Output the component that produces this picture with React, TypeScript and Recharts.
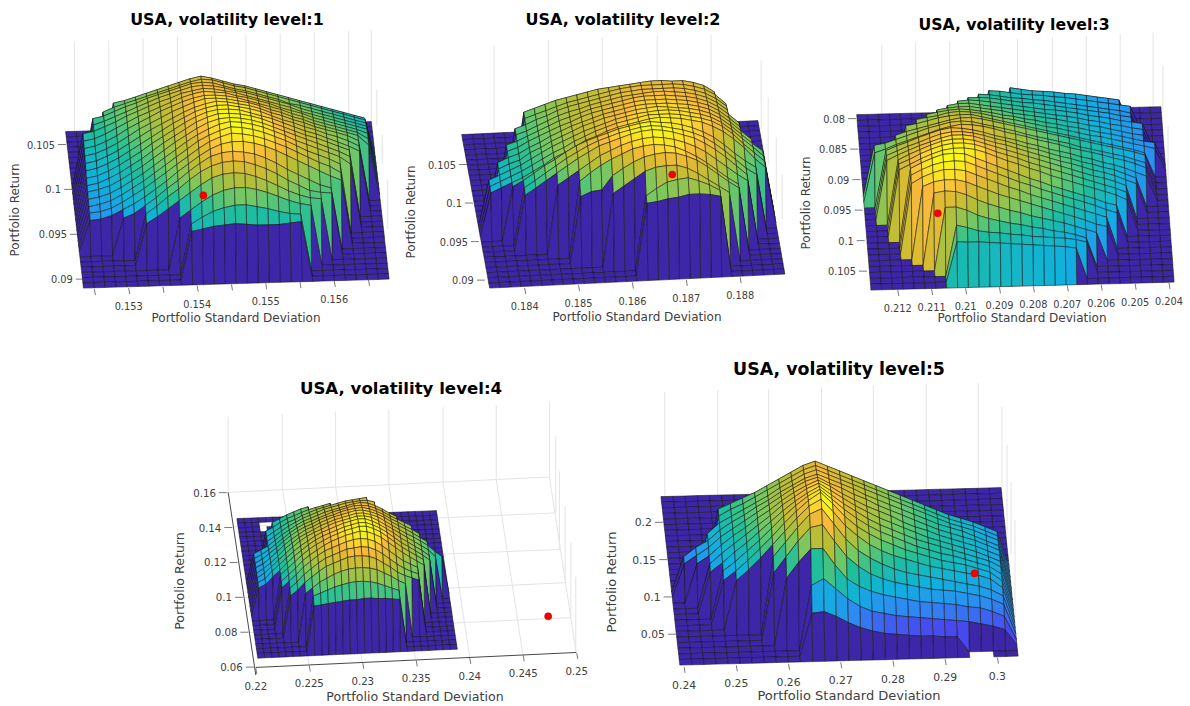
import React from 'react';
import { ScatterChart, Scatter, XAxis, YAxis } from 'recharts';

const GRID_ROWS = 31;
const GRID_COLS = 29;

// each row: first column of the raised part, then its heights as a share of the panel's peak (0-100).
// rows run back to front, columns missing from a row sit on the floor, null is a hole in the surface
type Row = (number | null)[];

const heightsLevel1: Row[] = [
  [0], [0], [0], [0], [0], [0], [0],
  [4,58,60,63,66,69,72,75,78,80,78,75,72,70,67,64,61,58,55,52,49,46,43,40,37],
  [3,55,59,62,65,68,71,74,77,80,82,81,78,75,73,70,67,64,61,58,55,52,49,46,43,40],
  [2,54,56,60,64,67,71,74,77,80,83,84,83,80,77,75,72,69,66,62,60,57,54,51,48,45,42],
  [2,53,56,60,64,68,72,76,79,82,85,86,85,83,80,78,75,72,69,66,62,59,56,53,50,47,44],
  [1,50,52,56,60,65,69,73,77,80,84,86,88,87,85,83,80,77,74,71,68,64,61,58,55,52,49,46],
  [1,48,50,54,59,64,69,73,77,81,85,88,90,89,88,85,83,80,77,73,70,67,63,60,57,54,51,47],
  [1,46,48,52,57,63,68,73,78,82,86,89,91,91,90,88,85,82,79,76,72,69,65,62,59,56,53,47],
  [1,44,46,50,55,61,67,72,77,82,86,90,93,93,92,90,88,85,81,78,74,71,67,64,61,58,55,46],
  [1,42,44,48,53,59,65,71,76,81,86,90,93,95,94,92,90,87,83,80,76,73,69,66,63,60,55],
  [1,40,42,46,51,57,63,69,75,81,86,91,94,96,96,94,92,89,85,81,78,74,71,67,64,60,55],
  [1,38,40,44,49,55,61,68,74,80,86,91,95,97,97,96,93,90,87,83,79,75,72,68,64,60,55],
  [1,36,38,42,47,53,59,66,73,79,85,91,95,98,98,97,95,92,88,84,80,76,73,69,65,61],
  [1,35,37,40,45,51,57,64,71,78,84,90,95,98,99,98,96,93,89,85,81,77,73,69,65,60],
  [1,33,35,38,43,49,55,62,69,76,83,89,94,98,100,99,97,94,90,86,81,77,73,69,65,58],
  [1,31,33,36,41,47,53,60,67,74,81,88,93,97,100,99,97,94,90,86,81,76,72,68,63],
  [1,30,31,34,39,45,51,58,65,72,79,86,92,96,99,98,96,93,89,85,80,75,70,66,60],
  [1,28,29,32,37,42,48,55,62,70,77,84,90,94,96,96,94,91,87,82,77,72,67,62,58],
  [4,34,38,45,52,60,67,75,82,88,91,92,91,89,85,80,74,69,64,59,56],
  [6,42,49,57,64,72,79,84,87,88,87,84,80,75,69,64,59,57,56],
  [6,38,44,51,58,65,72,78,81,82,81,78,74,69,64,60,57,56],
  [9,47,54,61,67,71,73,73,71,68,64,60,57,55],
  [10,46,52,57,60,62,62,60,58,55,53,52],
  [10,44,46,48,49,50,49,48,48,48,49,50],
  [0],
];

const heightsLevel2: Row[] = [
  [0], [0], [0], [0], [0], [0], [0], [0], [0], [0],
  [5,62,65,68,71,73,75,77,79,80,81,82,83,84,84,83,83,81,78,72],
  [5,61,64,67,70,73,75,77,79,81,83,84,85,85,85,85,84,82,79,74,66],
  [4,57,60,64,67,71,74,76,78,80,82,84,85,86,86,86,86,85,83,80,75,68],
  [4,56,59,63,67,71,74,76,79,81,83,85,86,87,88,88,87,86,84,81,76,69],
  [3,52,55,59,63,67,71,74,77,80,82,84,86,88,89,89,89,88,87,85,82,77,70,62],
  [3,51,54,59,63,67,71,74,78,81,83,85,87,89,90,90,90,89,88,86,83,78,71,63],
  [2,46,50,53,58,62,67,71,75,78,81,84,86,88,90,91,91,91,90,89,87,84,79,72,64,56],
  [2,45,49,52,58,62,67,71,75,79,82,85,87,89,91,92,93,92,91,90,88,85,80,73,65,57,50],
  [1,40,44,48,52,57,62,67,71,75,79,82,85,88,90,92,93,94,94,93,91,89,86,81,74,66,58,50],
  [1,39,43,47,51,56,61,66,70,75,79,83,86,89,91,93,95,95,95,94,92,90,87,82,75,66,58,50],
  [1,38,42,46,50,55,60,66,70,75,80,83,87,90,92,94,96,97,96,95,93,91,87,82,75,67,57,49],
  [3,47,52,58,64,69,75,80,84,87,90,93,95,97,98,97,96,94,91,87,82,75,67,60,54],
  [4,50,56,62,68,74,79,84,88,91,94,96,98,99,98,96,94,91,87,81,74,66,58,52],
  [4,48,54,60,66,72,78,83,88,91,94,97,99,100,99,97,94,91,86,80,73,65,57],
  [7,60,66,72,78,84,88,92,95,97,98,97,95,92,88,83,76,69,62,56],
  [9,67,74,80,85,89,93,95,96,95,93,89,84,78,71,64,58],
  [9,58,62,63,75,81,86,90,92,93,92,89,85,79,72,65,59],
  [12,64,70,76,82,85,86,86,83,78,72,66,60],
  [15,65,71,76,78,79,76,72,67],
  [15,63,64,66,67,69,69,68,66],
  [0],
];

const heightsLevel3: Row[] = [
  [0], [0], [0],
  [14,46,44,42,41,40,38,37,35,33,31,29],
  [12,50,49,47,45,44,43,41,40,38,36,34,32,30,28],
  [11,53,52,50,48,47,45,44,42,40,38,36,34,32,30,27],
  [10,56,56,55,53,51,49,48,46,44,42,40,38,36,34,31,29],
  [9,59,60,59,57,55,53,51,49,47,46,44,42,39,37,35,32,30,28],
  [8,61,63,63,61,59,57,55,53,51,49,47,45,43,40,38,35,33,30,28],
  [7,63,65,66,66,64,62,60,57,55,53,51,49,46,44,41,39,36,33,30,28],
  [6,65,67,69,70,69,67,65,62,60,57,55,52,50,47,45,42,39,37,34,31,28,26],
  [5,66,68,70,73,74,73,71,68,65,63,60,57,54,52,49,46,43,41,38,35,32,29,26],
  [4,66,68,71,74,76,77,77,74,71,68,65,62,59,56,53,50,47,44,41,38,35,32,28],
  [3,62,66,69,72,75,78,80,80,78,75,72,69,66,63,60,57,54,51,48,45,42,39,36,32],
  [1,58,60,64,68,72,76,79,82,83,82,79,76,73,70,66,63,60,57,54,50,47,44,41,38,34,30],
  [1,56,60,65,69,73,77,81,84,86,85,83,80,76,73,70,66,63,60,56,53,50,47,43,40,36,31],
  [2,65,70,74,79,83,87,89,88,86,83,79,76,73,69,66,62,59,56,52,49,45,42,38,33,28],
  [2,66,71,76,80,85,89,91,91,89,86,82,79,75,71,68,64,60,57,53,50,46,43,38,33],
  [2,67,73,78,83,87,91,94,94,92,88,84,81,77,73,69,65,61,58,54,50,47,43,38,33],
  [3,74,80,85,90,94,96,96,94,90,86,82,78,74,70,66,62,58,54,50,47,43,38],
  [3,76,81,87,92,96,98,98,96,92,87,83,79,74,70,66,62,58,54,50,46,42,37],
  [3,76,82,88,93,97,99,99,97,93,88,83,79,74,70,65,61,57,53,49,45,41,35],
  [4,84,90,95,99,100,99,94,89,84,79,74,69,65,60,56,52,48,44,39,36],
  [4,83,89,94,97,98,97,92,87,82,77,72,68,63,59,55,51,47,43,38,34],
  [4,80,87,92,95,95,93,88,83,78,73,69,64,60,56,52,48,44,40,36],
  [5,83,88,90,90,87,82,77,72,68,64,60,56,52,48,44,40,35,32],
  [6,82,84,83,79,73,68,64,60,57,53,50,47,44,40,36,32],
  [7,72,72,68,62,58,55,52,50,47,45,42,40,37,33],
  [8,58,55,51,49,48,46,45,43,42,41,40,38,35],
  [8,46,45,45,44,43,42,41,40,39,38,37,35],
  [0],
];

const heightsLevel4: Row[] = [
  [0], [0],
  [3,null,null,null],
  [3,null],
  [0], [0], [0], [0], [0], [0],
  [4,46,50,54,57,60,62],
  [3,42,46,51,55,58,61,64,66,68,70],
  [3,41,46,51,56,59,63,66,69,71,73,75,77,78,79,80],
  [3,41,46,52,57,61,65,68,71,74,76,78,80,81,82,82,80],
  [1,33,37,41,47,53,58,63,67,70,73,76,78,80,82,84,85,84,81,77,72,68],
  [1,33,37,42,48,54,60,65,69,72,75,78,81,83,85,87,87,86,83,79,74,70,66,62],
  [1,33,37,43,49,56,62,67,71,74,78,81,83,86,88,89,90,88,85,81,76,72,67,63,58],
  [1,33,37,43,50,57,63,68,73,76,80,83,86,88,90,92,92,90,87,83,78,73,69,64,59,54],
  [1,32,37,43,50,58,64,70,74,78,82,85,88,90,92,94,94,92,89,84,79,74,69,65,60,55,48,42],
  [1,32,37,44,51,58,65,71,76,80,83,87,90,92,94,96,96,94,90,85,80,75,70,65,60,55,47],
  [1,32,36,44,51,58,65,71,76,81,85,88,91,94,96,98,98,95,91,86,81,75,70,65,60,54],
  [1,31,35,43,50,58,65,71,77,82,86,89,92,95,97,99,99,96,92,87,81,75,70,65,60,54],
  [4,50,57,64,71,77,82,86,90,93,96,98,100,100,97,93,87,81,75,70,65,60],
  [4,48,55,62,70,76,81,86,90,93,96,98,100,99,96,92,86,80,74,69,64,59],
  [4,46,53,60,68,74,80,85,88,91,94,96,97,96,93,88,82,76,70,66,62],
  [5,50,57,65,71,77,82,85,88,91,92,93,92,89,84,78,72,67,63,60],
  [5,47,53,61,67,73,78,81,84,87,88,88,87,84,79,74,68,64,61,58],
  [7,54,60,66,70,74,77,79,80,80,79,77,73,69,64,60],
  [8,56,59,62,65,67,69,70,70,69,67,64,61,58],
  [8,50,51,52,53,54,55,55,56,56,55,55,54,53],
  [0],
];

const heightsLevel5: Row[] = [
  [0], [0], [0], [0], [0], [0], [0], [0], [0], [0], [0], [0], [0], [0],
  [4,50,54,58,62,67,72,77,82,85,81,77,73,69,65,61,57,53,49,45,41,38,35,31,27],
  [4,49,54,58,63,68,73,78,83,86,82,78,74,70,66,62,58,54,50,46,42,39,36,32,28],
  [3,40,48,53,58,63,68,74,79,84,87,83,79,75,71,67,63,59,55,51,47,43,40,37,33,29],
  [1,27,34,39,47,53,58,64,69,75,80,85,88,84,80,76,71,67,63,59,55,51,47,44,41,37,33,29],
  [1,26,32,38,46,52,58,64,70,76,82,87,90,85,81,76,72,67,63,59,55,51,47,44,41,38,34,30],
  [2,30,36,44,51,57,64,70,77,83,88,92,87,81,76,71,67,63,58,54,51,47,44,41,38,34,30],
  [3,34,42,49,56,63,70,78,84,90,94,88,82,76,71,66,62,58,54,50,47,44,41,38,34,30],
  [3,32,39,47,54,62,70,78,85,91,96,89,82,76,70,65,61,57,53,50,47,44,41,38,35,30],
  [4,37,44,52,60,69,78,86,93,98,90,82,75,69,64,60,56,52,49,46,44,41,38,35,29],
  [4,34,41,49,58,67,77,86,94,100,91,81,73,67,62,58,54,51,48,45,43,41,38,35,28],
  [5,38,46,55,65,75,85,94,99,89,78,70,63,58,54,51,48,45,43,41,39,37,34,27],
  [8,60,71,82,92,96,84,72,63,57,52,48,45,43,41,39,37,35,33,30,25],
  [8,52,64,76,86,88,75,63,55,49,45,42,40,38,36,35,34,32,30,27,23],
  [9,52,64,74,74,61,50,44,40,37,35,33,31,30,29,28,26,25,22,18],
  [11,50,55,47,39,33,29,27,25,24,23,22,21,20,19,17,15,12],
  [11,33,34,30,25,21,18,16,15,14,13,13,12,12],
  [24,null,null],
];

const xTicksLevel1 = [0.1525, 0.153, 0.1535, 0.154, 0.1545, 0.155, 0.1555, 0.156, 0.1565];
const xLabelsLevel1 = [0.153, 0.154, 0.155, 0.156];
const yTicksLevel1 = [0.09, 0.095, 0.1, 0.105];
const xTicksLevel2 = [0.184, 0.185, 0.186, 0.187, 0.188];
const yTicksLevel2 = [0.09, 0.095, 0.1, 0.105];
const xTicksLevel3 = [0.212, 0.211, 0.21, 0.209, 0.208, 0.207, 0.206, 0.205, 0.204];
const yTicksLevel3 = [0.08, 0.085, 0.09, 0.095, 0.1, 0.105];
const xTicksLevel4 = [0.22, 0.225, 0.23, 0.235, 0.24, 0.245, 0.25];
const yTicksLevel4 = [0.06, 0.08, 0.1, 0.12, 0.14, 0.16];
const xTicksLevel5 = [0.24, 0.25, 0.26, 0.27, 0.28, 0.29, 0.3];
const yTicksLevel5 = [0.05, 0.1, 0.15, 0.2];

// background grid segments in axis units: x1, y1, x2, y2
const wallsLevel1 = [
  [0.15221, 0.1164, 0.15221, 0.1064], [0.15271, 0.1166, 0.15271, 0.1064], [0.15321, 0.1168, 0.15321, 0.1066],
  [0.15371, 0.117, 0.15371, 0.1066], [0.15421, 0.1171, 0.15421, 0.1068], [0.15471, 0.1172, 0.15471, 0.1068],
  [0.15521, 0.1174, 0.15521, 0.107], [0.15571, 0.1175, 0.15571, 0.107], [0.15621, 0.1177, 0.15621, 0.1072],
  [0.15654, 0.1178, 0.15654, 0.1075], [0.15662, 0.1111, 0.15662, 0.1072], [0.1567, 0.1061, 0.1567, 0.1028],
  [0.15678, 0.1011, 0.15678, 0.0956],
];
const wallsLevel2 = [
  [0.18343, 0.1205, 0.18343, 0.1095], [0.18444, 0.1212, 0.18444, 0.1095], [0.18544, 0.1215, 0.18544, 0.1095],
  [0.18646, 0.1217, 0.18646, 0.1095], [0.18746, 0.1218, 0.18746, 0.1095], [0.18839, 0.1185, 0.18839, 0.1095],
  [0.18852, 0.1137, 0.18852, 0.105], [0.18867, 0.1085, 0.18867, 0.1005], [0.18878, 0.1037, 0.18878, 0.0979],
];
const wallsLevel3 = [
  [0.21247, 0.0679, 0.21247, 0.0793], [0.21147, 0.0676, 0.21147, 0.0793], [0.21047, 0.0674, 0.21047, 0.079],
  [0.20947, 0.0671, 0.20947, 0.079], [0.20847, 0.0669, 0.20847, 0.0788], [0.20744, 0.0666, 0.20744, 0.0788],
  [0.20644, 0.0664, 0.20644, 0.0786], [0.20544, 0.0661, 0.20544, 0.0786], [0.20447, 0.0659, 0.20447, 0.0784],
  [0.20418, 0.0713, 0.20418, 0.0784], [0.20403, 0.0812, 0.20403, 0.0905],
];
const wallsLevel4 = [
  [0.21742, 0.2036, 0.21742, 0.16018], [0.22249, 0.20494, 0.22249, 0.16267], [0.22746, 0.20646, 0.22746, 0.16362],
  [0.23244, 0.20781, 0.23244, 0.16457], [0.2375, 0.20895, 0.2375, 0.16589], [0.24248, 0.21029, 0.24248, 0.16743],
  [0.24745, 0.21181, 0.24745, 0.16897], [0.24804, 0.19219, 0.24804, 0.14838], [0.24838, 0.17219, 0.24838, 0.12743],
  [0.24892, 0.15219, 0.24892, 0.1084], [0.24945, 0.13124, 0.24945, 0.0884], [0.24991, 0.11181, 0.24991, 0.06838],
  [0.22249, 0.16267, 0.22497, 0.06171], [0.22746, 0.16362, 0.22995, 0.06267], [0.23244, 0.16457, 0.23492, 0.06457],
  [0.2375, 0.16589, 0.24, 0.06552], [0.24248, 0.16743, 0.24497, 0.06686], [0.21742, 0.16018, 0.24745, 0.16897],
  [0.24745, 0.16897, 0.24994, 0.06838], [0.21792, 0.14039, 0.24798, 0.14838], [0.21844, 0.12017, 0.24845, 0.12743],
  [0.219, 0.09981, 0.24898, 0.1084], [0.21947, 0.07981, 0.24945, 0.0884],
];
const wallsLevel5 = [
  [0.23631, 0.3749, 0.23631, 0.2345], [0.24644, 0.3769, 0.24644, 0.236], [0.25619, 0.3789, 0.25619, 0.2375],
  [0.26632, 0.3809, 0.26632, 0.239], [0.27625, 0.3829, 0.27625, 0.2405], [0.28638, 0.3849, 0.28638, 0.242],
  [0.29632, 0.3869, 0.29632, 0.2445], [0.30089, 0.3548, 0.30089, 0.2465], [0.30185, 0.304, 0.30185, 0.1837],
  [0.30261, 0.2546, 0.30261, 0.157], [0.30338, 0.2037, 0.30338, 0.0701],
];
const axesLevel4 = [[0.21742, 0.16018, 0.22, 0.0555], [0.22, 0.05981, 0.24994, 0.06838]];

type Corner = [number, number];

interface Panel {
  title: string;
  box: [number, number, number, number];
  xDomain: [number, number];
  yDomain: [number, number];
  flipped?: boolean;
  corners: [Corner, Corner, Corner, Corner]; // back left, back right, front right, front left
  peak: number; // peak height in return units, as it reads on the y scale
  heights: Row[];
  dot: Corner;
  walls: number[][];
  axes?: number[][];
  xTicks: number[];
  xLabels: number[];
  yTicks: number[];
  xTickLine: [number, number, number];
  yTickLine: [number, number, number];
  tickSize: number;
  titleAt: [number, number, number];
  xLabelAt: [number, number, number];
  yLabelAt: [number, number, number];
}

const panels: Panel[] = [
  {
    title: 'USA, volatility level:1', box: [0, 0, 400, 330],
    xDomain: [0.151137, 0.156959], yDomain: [0.08444, 0.12111],
    corners: [[0.15208, 0.10644], [0.15654, 0.10756], [0.1568, 0.09], [0.15234, 0.089]],
    peak: 0.01222, heights: heightsLevel1, dot: [0.15409, 0.09933], walls: wallsLevel1,
    xTicks: xTicksLevel1, xLabels: xLabelsLevel1, yTicks: yTicksLevel1,
    xTickLine: [128, 288, -0.034], yTickLine: [145, 58, 0.133], tickSize: 9.8,
    titleAt: [227, 25, 15.9], xLabelAt: [236, 322, 12], yLabelAt: [15, 210, 12],
  },
  {
    title: 'USA, volatility level:2', box: [400, 0, 400, 330],
    xDomain: [0.181704, 0.189111], yDomain: [0.08366, 0.12634],
    corners: [[0.18283, 0.10888], [0.18833, 0.11069], [0.18883, 0.09078], [0.18335, 0.08897]],
    peak: 0.01487, heights: heightsLevel2, dot: [0.18674, 0.10371], walls: wallsLevel2,
    xTicks: xTicksLevel2, xLabels: xTicksLevel2, yTicks: yTicksLevel2,
    xTickLine: [124, 288, -0.05], yTickLine: [165, 59, 0.155], tickSize: 9.8,
    titleAt: [223, 25, 16], xLabelAt: [237, 321, 12], yLabelAt: [11, 212, 12],
  },
  {
    title: 'USA, volatility level:3', box: [790, 0, 400, 330],
    xDomain: [0.203382, 0.215147], yDomain: [0.06056, 0.11448], flipped: true,
    corners: [[0.21321, 0.07935], [0.20424, 0.07804], [0.20385, 0.1068], [0.21279, 0.1081]],
    peak: -0.01438, heights: heightsLevel3, dot: [0.21082, 0.09552], walls: wallsLevel3,
    xTicks: xTicksLevel3, xLabels: xTicksLevel3, yTicks: yTicksLevel3,
    xTickLine: [107, 290, -0.026], yTickLine: [119, 58, 0.072], tickSize: 9.8,
    titleAt: [224, 30, 15.7], xLabelAt: [232, 322, 12], yLabelAt: [16, 203, 12],
  },
  {
    title: 'USA, volatility level:4', box: [160, 370, 430, 336],
    xDomain: [0.21114, 0.25124], yDomain: [0.03829, 0.23029],
    corners: [[0.21823, 0.14514], [0.23688, 0.14971], [0.23884, 0.07029], [0.22019, 0.06514]],
    peak: 0.05143, heights: heightsLevel4, dot: [0.24733, 0.08914], walls: wallsLevel4, axes: axesLevel4,
    xTicks: xTicksLevel4, xLabels: xTicksLevel4, yTicks: yTicksLevel4,
    xTickLine: [95, 298, -0.047], yTickLine: [123, 59, 0.154], tickSize: 10.2,
    titleAt: [241, 24, 16.6], xLabelAt: [255, 331, 12.6], yLabelAt: [20, 211, 12.6],
  },
  {
    title: 'USA, volatility level:5', box: [600, 355, 440, 351],
    xDomain: [0.22408, 0.30816], yDomain: [-0.04492, 0.42433],
    corners: [[0.23555, 0.23449], [0.30071, 0.24652], [0.30396, 0.02059], [0.23918, 0.00856]],
    peak: 0.1738, heights: heightsLevel5, dot: [0.29561, 0.13155], walls: wallsLevel5,
    xTicks: xTicksLevel5, xLabels: xTicksLevel5, yTicks: yTicksLevel5,
    xTickLine: [83, 312, -0.03], yTickLine: [168, 55, 0.116], tickSize: 10.8,
    titleAt: [239, 20, 17.4], xLabelAt: [249, 345, 13], yLabelAt: [12, 227, 13],
  },
];

const PARULA: [number, number, number, number][] = [
  [0, 62, 38, 168], [0.12, 72, 72, 240], [0.25, 45, 140, 242], [0.37, 15, 178, 220], [0.5, 32, 190, 155],
  [0.62, 115, 200, 100], [0.74, 185, 190, 55], [0.82, 215, 188, 50], [0.88, 248, 186, 58], [0.93, 252, 218, 42], [1, 249, 251, 21],
];

const parula = (v: number) => {
  let i = 0;
  while (i < PARULA.length - 2 && v > PARULA[i + 1][0]) i++;
  const [a, b] = [PARULA[i], PARULA[i + 1]];
  const t = Math.min(1, Math.max(0, (v - a[0]) / (b[0] - a[0])));
  const c = [1, 2, 3].map((k) => Math.round(a[k] + (b[k] - a[k]) * t));
  return `rgb(${c[0]},${c[1]},${c[2]})`;
};

// height at a grid vertex, 0 when the row doesn't reach it
const heightAt = (p: Panel, r: number, c: number): number | null => {
  const row = p.heights[r];
  const i = c - (row[0] as number) + 1;
  return i >= 1 && i < row.length ? row[i] : 0;
};

// vertex of the grid on the chart's two axes: floor position plus the height
const buildVertices = (p: Panel) => {
  const [bl, br, fr, fl] = p.corners;
  const out: { x: number; y: number }[] = [];
  for (let r = 0; r < GRID_ROWS; r++) {
    const s = r / (GRID_ROWS - 1);
    for (let c = 0; c < GRID_COLS; c++) {
      const t = c / (GRID_COLS - 1);
      const x = (bl[0] * (1 - t) + br[0] * t) * (1 - s) + (fl[0] * (1 - t) + fr[0] * t) * s;
      const y = (bl[1] * (1 - t) + br[1] * t) * (1 - s) + (fl[1] * (1 - t) + fr[1] * t) * s;
      out.push({ x, y: y + ((heightAt(p, r, c) ?? 0) / 100) * p.peak });
    }
  }
  return out;
};

// the whole mesh is one Scatter; its line gets the scaled points and paints the quads back to front
const meshLine = (p: Panel) => (props: any) => {
  const pts = props.points;
  const at = (r: number, c: number) => pts[r * GRID_COLS + c];
  const cam = Math.floor(GRID_COLS / 2);
  const order = Array.from({ length: GRID_COLS - 1 }, (_, c) => c).sort((a, b) => Math.abs(b - cam) - Math.abs(a - cam));
  const quads = [];
  for (let r = 0; r < GRID_ROWS - 1; r++) {
    for (const c of order) {
      const v = p.flipped ? heightAt(p, r, c + 1) : heightAt(p, r + 1, c);
      if (v === null) continue;
      const q = [at(r, c), at(r, c + 1), at(r + 1, c + 1), at(r + 1, c)];
      const d = 'M' + q.map((o) => `${o.x.toFixed(1)} ${o.y.toFixed(1)}`).join('L') + 'Z';
      quads.push(<path key={`${r}-${c}`} d={d} fill={parula(v / 100)} stroke="#141414" strokeWidth={0.55} />);
    }
  }
  return <g>{quads}</g>;
};

const segmentData = (segs: number[][]) => segs.flatMap((s) => [{ x: s[0], y: s[1] }, { x: s[2], y: s[3] }]);

const segmentLine = (stroke: string, width: number) => (props: any) => {
  const pts = props.points;
  const lines = [];
  for (let i = 0; i + 1 < pts.length; i += 2) {
    lines.push(<line key={i} x1={pts[i].x} y1={pts[i].y} x2={pts[i + 1].x} y2={pts[i + 1].y} stroke={stroke} strokeWidth={width} />);
  }
  return <g>{lines}</g>;
};

const noPoint = () => <g />;
const redDot = (props: any) => <circle cx={props.cx} cy={props.cy} r={3.8} fill="#f00000" />;

const XTick = ({ x, payload, p }: any) => {
  const [x0, y0, slope] = p.xTickLine;
  const top = y0 + slope * (x - x0);
  return (
    <g>
      <line x1={x} y1={top} x2={x + 1} y2={top + 6} stroke="#404040" strokeWidth={0.7} />
      {p.xLabels.includes(payload.value) && (
        <text x={x} y={top + 22} textAnchor="middle" fontSize={p.tickSize} fill="#404040" fontFamily="DejaVu Sans">
          {String(payload.value)}
        </text>
      )}
    </g>
  );
};

const YTick = ({ y, payload, p }: any) => {
  const [y0, x0, slope] = p.yTickLine;
  const left = x0 + slope * (y - y0);
  return (
    <g>
      <line x1={left} y1={y} x2={left + 8} y2={y} stroke="#404040" strokeWidth={0.7} />
      <text x={left - 3} y={y + 4} textAnchor="end" fontSize={p.tickSize} fill="#404040" fontFamily="DejaVu Sans">
        {String(payload.value)}
      </text>
    </g>
  );
};

const PanelChart = ({ p }: { p: Panel }) => {
  const [left, top, width, height] = p.box;
  return (
    <div style={{ position: 'absolute', left, top, width, height }}>
      <ScatterChart width={width} height={height} margin={{ top: 0, right: 0, bottom: 0, left: 0 }}>
        <XAxis
          type="number"
          dataKey="x"
          domain={p.xDomain}
          reversed={p.flipped}
          allowDataOverflow
          ticks={p.xTicks}
          interval={0}
          height={1}
          axisLine={false}
          tickLine={false}
          tick={(t: any) => <XTick {...t} p={p} />}
        />
        <YAxis
          type="number"
          dataKey="y"
          domain={p.yDomain}
          reversed={p.flipped}
          allowDataOverflow
          ticks={p.yTicks}
          interval={0}
          width={1}
          axisLine={false}
          tickLine={false}
          tick={(t: any) => <YTick {...t} p={p} />}
        />
        <Scatter data={segmentData(p.walls)} line={segmentLine('#e4e4e4', 1)} shape={noPoint} isAnimationActive={false} />
        {p.axes && <Scatter data={segmentData(p.axes)} line={segmentLine('#333333', 0.9)} shape={noPoint} isAnimationActive={false} />}
        <Scatter data={buildVertices(p)} line={meshLine(p)} shape={noPoint} isAnimationActive={false} />
        <Scatter data={[{ x: p.dot[0], y: p.dot[1] }]} shape={redDot} isAnimationActive={false} />
        <text x={p.titleAt[0]} y={p.titleAt[1]} textAnchor="middle" fontSize={p.titleAt[2]} fontWeight="bold" fontFamily="DejaVu Sans" fill="#000">
          {p.title}
        </text>
        <text x={p.xLabelAt[0]} y={p.xLabelAt[1]} textAnchor="middle" fontSize={p.xLabelAt[2]} fontFamily="DejaVu Sans" fill="#404040">
          Portfolio Standard Deviation
        </text>
        <text
          x={p.yLabelAt[0]}
          y={p.yLabelAt[1]}
          textAnchor="middle"
          dominantBaseline="middle"
          transform={`rotate(-90 ${p.yLabelAt[0]} ${p.yLabelAt[1]})`}
          fontSize={p.yLabelAt[2]}
          fontFamily="DejaVu Sans"
          fill="#404040"
        >
          Portfolio Return
        </text>
      </ScatterChart>
    </div>
  );
};

export default function App() {
  return (
    <div style={{ position: 'absolute', left: 0, top: 0, width: 1190, height: 706, background: '#fff', overflow: 'hidden' }}>
      {panels.map((p) => (
        <PanelChart key={p.title} p={p} />
      ))}
    </div>
  );
}
